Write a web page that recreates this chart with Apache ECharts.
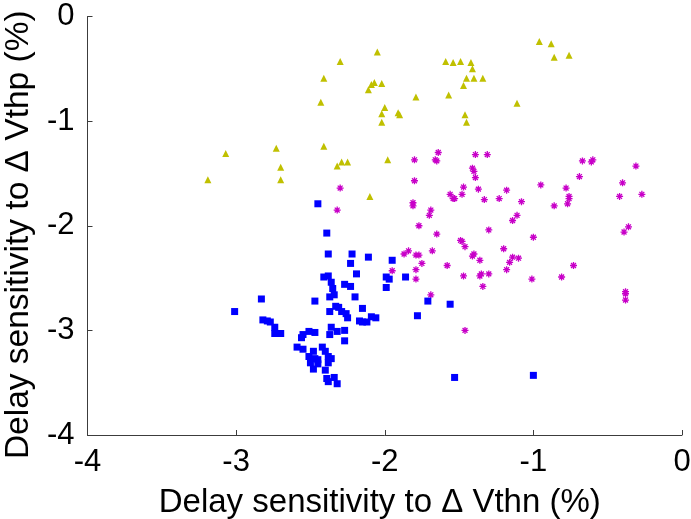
<!DOCTYPE html>
<html>
<head>
<meta charset="utf-8">
<script src="https://cdn.jsdelivr.net/npm/echarts@6/dist/echarts.min.js"></script>
<style>
html,body{margin:0;padding:0;background:#fff;}
#chart{width:691px;height:519px;}
</style>
</head>
<body>
<div id="chart"></div>
<script>
// Axis ticks
var xTicks = [-4, -3, -2, -1, 0];
var yTicks = [-4, -3, -2, -1, 0];

// Triangles (yellow)
var triX = [-2.05,-2.30,-2.41,-2.07,-2.09,-2.02,-2.11,-1.79,-2.43,-2.00,-2.02,-1.91,-1.90,-2.02,-3.07,-2.73,-2.41,-2.70,-2.32,-2.29,-2.25,-1.98,-3.19,-2.70,-2.10,-0.96,-0.88,-0.86,-0.76,-1.59,-1.54,-1.49,-1.42,-1.41,-1.45,-1.40,-1.34,-1.47,-1.57,-1.11,-1.46,-1.45];
var triY = [-0.34,-0.43,-0.59,-0.63,-0.65,-0.64,-0.70,-0.77,-0.82,-0.87,-0.93,-0.92,-0.94,-1.01,-1.31,-1.26,-1.24,-1.44,-1.43,-1.39,-1.39,-1.37,-1.56,-1.56,-1.72,-0.24,-0.26,-0.39,-0.37,-0.43,-0.44,-0.43,-0.44,-0.50,-0.59,-0.59,-0.59,-0.66,-0.75,-0.83,-0.94,-1.01];

// Stars (magenta)
var starX = [-1.80,-1.64,-1.66,-1.65,-1.39,-1.31,-0.67,-0.61,-0.60,-0.31,
-1.80,-1.41,-1.40,-1.39,-0.69,-0.40,-1.47,-1.37,-1.18,-0.95,
-0.78,-1.56,-1.48,-1.54,-1.53,-1.33,-1.23,-1.08,-0.76,-0.76,
-0.42,-0.27,-1.81,-1.81,-0.86,-0.77,-1.69,-1.70,-1.11,-1.14,
-1.77,-1.30,-1.65,-0.36,-0.39,-1.00,-1.49,-1.48,-1.46,-1.20,
-1.87,-1.84,-1.79,-1.77,-1.68,-1.41,-1.40,-1.36,-1.14,-1.10,
-1.16,-1.75,-1.58,-0.73,-1.95,-1.79,-1.79,-1.47,-1.36,-1.35,
-1.30,-1.18,-1.01,-0.81,-1.34,-0.38,-0.38,-0.38,-1.69,-1.46,
-2.30,-2.32];
var starY = [-1.37,-1.30,-1.37,-1.38,-1.32,-1.32,-1.38,-1.39,-1.37,-1.43,
-1.57,-1.45,-1.48,-1.54,-1.53,-1.59,-1.63,-1.65,-1.66,-1.61,
-1.64,-1.70,-1.70,-1.74,-1.74,-1.75,-1.74,-1.77,-1.72,-1.74,
-1.72,-1.70,-1.78,-1.81,-1.81,-1.79,-1.85,-1.90,-1.90,-1.95,
-2.00,-2.04,-2.08,-2.01,-2.06,-2.11,-2.14,-2.15,-2.20,-2.22,
-2.27,-2.24,-2.28,-2.28,-2.24,-2.29,-2.27,-2.33,-2.30,-2.31,
-2.35,-2.36,-2.38,-2.38,-2.43,-2.42,-2.51,-2.48,-2.48,-2.46,
-2.46,-2.42,-2.51,-2.49,-2.58,-2.63,-2.65,-2.71,-2.66,-3.00,
-1.64,-1.85];

// Squares (blue)
var sqX = [-2.45,-2.39,-2.38,-2.22,-2.11,-2.23,-1.95,-2.19,-2.41,-2.38,
-2.36,-2.35,-2.27,-2.23,-1.99,-1.97,-1.86,-1.99,-2.34,-2.37,
-2.20,-2.47,-2.83,-3.01,-1.71,-1.56,-1.78,-2.15,-2.37,-2.33,
-2.31,-2.29,-2.26,-2.25,-2.17,-2.15,-2.12,-2.09,-2.06,-2.82,
-2.79,-2.77,-2.74,-2.74,-2.70,-2.36,-2.37,-2.32,-2.27,-2.27,
-2.51,-2.47,-2.55,-2.56,-2.59,-2.55,-2.48,-2.42,-2.40,-2.51,
-2.47,-2.45,-2.38,-2.36,-2.50,-2.45,-2.38,-2.48,-2.40,-2.39,
-2.34,-2.32,-2.38,-1.53,-1.00];
var sqY = [-1.79,-2.07,-2.27,-2.27,-2.30,-2.36,-2.33,-2.46,-2.49,-2.48,
-2.54,-2.60,-2.56,-2.58,-2.49,-2.51,-2.49,-2.59,-2.66,-2.68,
-2.68,-2.72,-2.70,-2.82,-2.72,-2.75,-2.86,-2.79,-2.82,-2.77,
-2.78,-2.82,-2.84,-2.88,-2.91,-2.92,-2.92,-2.87,-2.88,-2.90,
-2.91,-2.92,-2.97,-3.03,-3.03,-2.97,-3.04,-3.01,-3.00,-3.10,
-3.01,-3.02,-3.04,-3.07,-3.16,-3.18,-3.20,-3.16,-3.20,-3.25,
-3.27,-3.28,-3.25,-3.27,-3.31,-3.32,-3.31,-3.37,-3.38,-3.46,
-3.45,-3.51,-3.49,-3.45,-3.43];

var xName = 'Delay sensitivity to \u0394 Vthn (%)';
var yName = 'Delay sensitivity to \u0394 Vthp (%)';

function zip(xs, ys) {
  var out = [];
  for (var i = 0; i < xs.length; i++) out.push([xs[i], ys[i]]);
  return out;
}

var FONT = '"Liberation Sans", Arial, Helvetica, sans-serif';
var starPath = 'path://M0,5L10,5M5,0L5,10M1.5,1.5L8.5,8.5M8.5,1.5L1.5,8.5';

var chart = echarts.init(document.getElementById('chart'), null, {renderer: 'canvas'});
chart.setOption({
  animation: false,
  backgroundColor: '#ffffff',
  grid: {left: 87.5, right: 9, top: 16.5, bottom: 84, containLabel: false, outerBoundsMode: 'none'},
  xAxis: {
    type: 'value', min: xTicks[0], max: xTicks[xTicks.length - 1], interval: 1,
    name: xName, nameLocation: 'middle', nameGap: 51,
    nameTextStyle: {fontFamily: FONT, fontSize: 33, color: '#000', padding: [0, 10, 0, 0]},
    axisLine: {show: true, onZero: false, lineStyle: {color: '#3c3c3c', width: 1}},
    axisTick: {show: true, inside: true, length: 5, lineStyle: {color: '#3c3c3c'}},
    axisLabel: {fontFamily: FONT, fontSize: 31, color: '#000', margin: 12, showMinLabel: true, showMaxLabel: true},
    splitLine: {show: false}
  },
  yAxis: {
    type: 'value', min: yTicks[0], max: yTicks[yTicks.length - 1], interval: 1,
    name: yName, nameLocation: 'middle', nameGap: 41, nameRotate: 90,
    nameTextStyle: {fontFamily: FONT, fontSize: 33.5, color: '#000', padding: [0, 18, 0, 0]},
    axisLine: {show: true, onZero: false, lineStyle: {color: '#3c3c3c', width: 1}},
    axisTick: {show: true, inside: true, length: 5, lineStyle: {color: '#3c3c3c'}},
    axisLabel: {fontFamily: FONT, fontSize: 31, color: '#000', margin: 13, showMinLabel: true, showMaxLabel: true},
    splitLine: {show: false}
  },
  series: [
    {
      type: 'scatter', name: 'tri', data: zip(triX, triY),
      symbol: 'triangle', symbolSize: [7, 7],
      itemStyle: {color: '#c0c000', opacity: 1}
    },
    {
      type: 'scatter', name: 'star', data: zip(starX, starY),
      symbol: starPath, symbolSize: 7,
      itemStyle: {color: 'rgba(0,0,0,0)', borderColor: '#c800c8', borderWidth: 1.3, opacity: 1}
    },
    {
      type: 'scatter', name: 'sq', data: zip(sqX, sqY),
      symbol: 'rect', symbolSize: 7,
      itemStyle: {color: '#0000ff', opacity: 1}
    }
  ]
});
</script>
</body>
</html>
